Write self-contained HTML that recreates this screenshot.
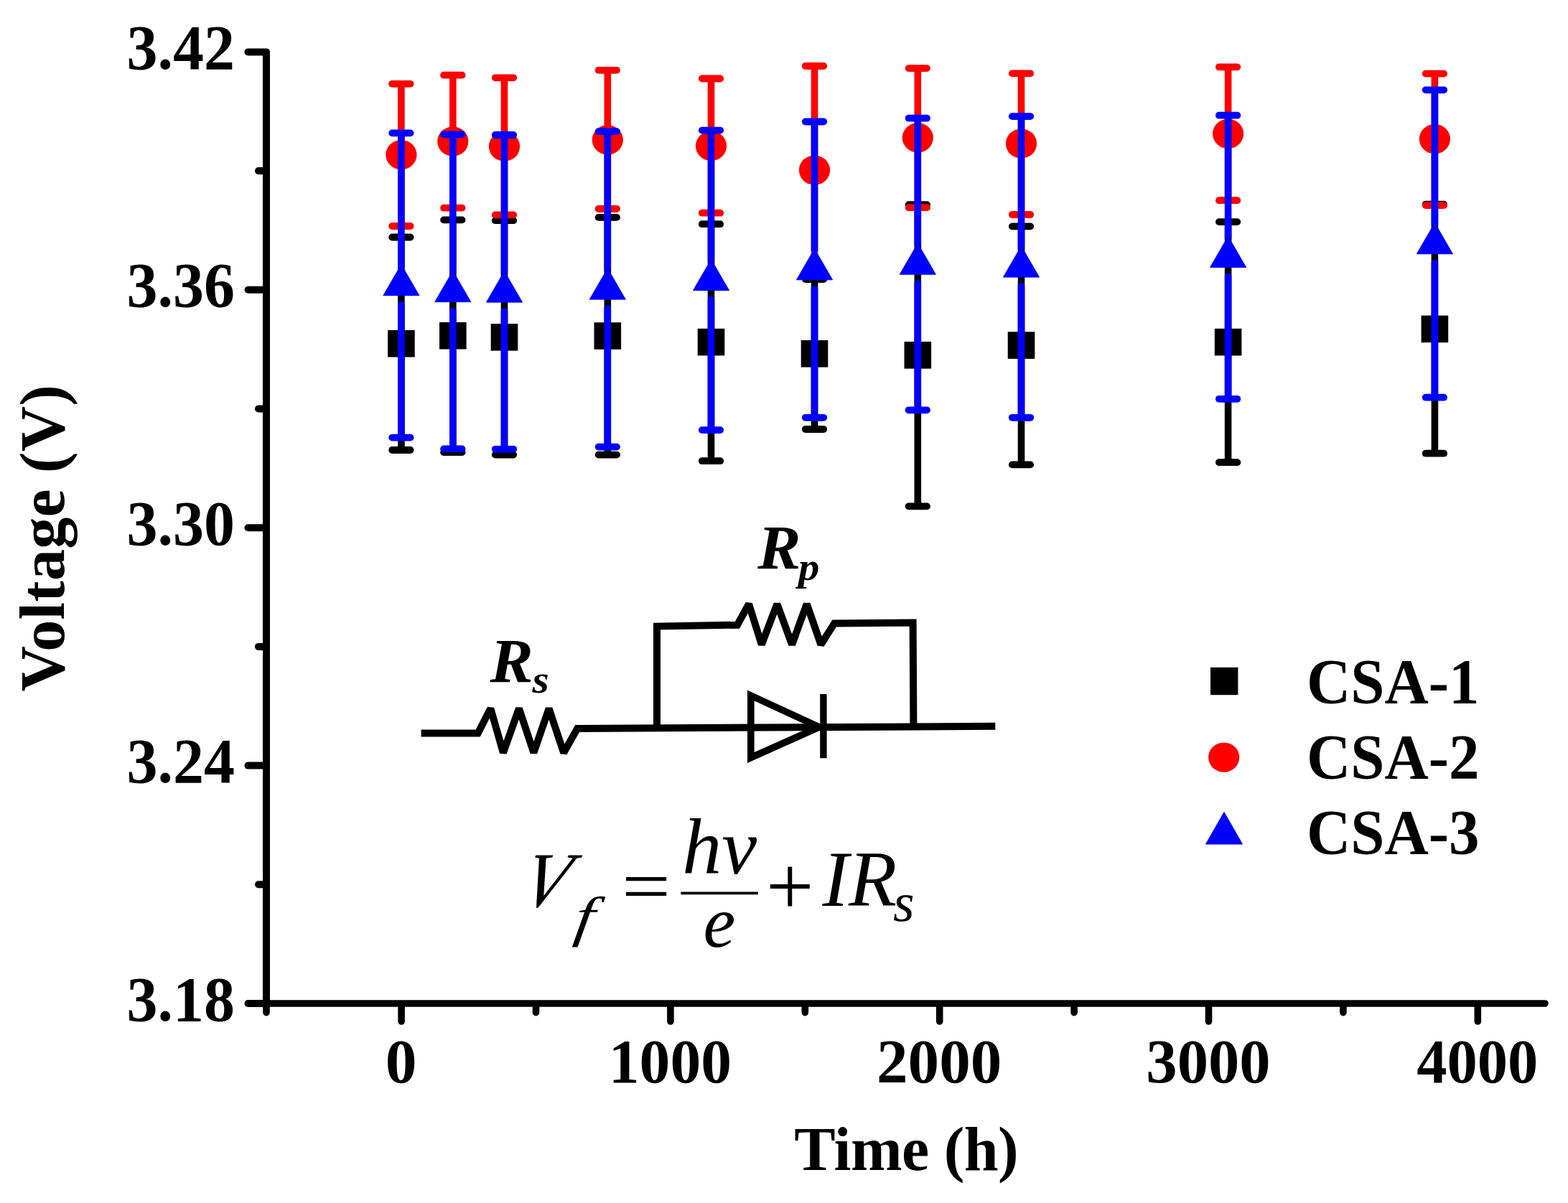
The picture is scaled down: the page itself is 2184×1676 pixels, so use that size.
<!DOCTYPE html>
<html><head><meta charset="utf-8"><title>Voltage vs Time</title>
<style>html,body{margin:0;padding:0;background:#fff;}svg{display:block;}</style>
</head><body>
<svg width="2184" height="1676" viewBox="0 0 2184 1676">
<rect width="2184" height="1676" fill="#fff"/>
<path d="M345.5 72.4 H371.0 V1398.0" fill="none" stroke="#000" stroke-width="10" stroke-linejoin="round" stroke-linecap="round"/>
<line x1="345.5" y1="403.8" x2="371.0" y2="403.8" stroke="#000" stroke-width="10" stroke-linecap="round"/>
<line x1="345.5" y1="735.2" x2="371.0" y2="735.2" stroke="#000" stroke-width="10" stroke-linecap="round"/>
<line x1="345.5" y1="1066.6" x2="371.0" y2="1066.6" stroke="#000" stroke-width="10" stroke-linecap="round"/>
<line x1="345.5" y1="1398.0" x2="371.0" y2="1398.0" stroke="#000" stroke-width="10" stroke-linecap="round"/>
<line x1="360" y1="238.1" x2="371.0" y2="238.1" stroke="#000" stroke-width="10" stroke-linecap="round"/>
<line x1="360" y1="569.5" x2="371.0" y2="569.5" stroke="#000" stroke-width="10" stroke-linecap="round"/>
<line x1="360" y1="900.9" x2="371.0" y2="900.9" stroke="#000" stroke-width="10" stroke-linecap="round"/>
<line x1="360" y1="1232.3" x2="371.0" y2="1232.3" stroke="#000" stroke-width="10" stroke-linecap="round"/>
<line x1="367.0" y1="1398.0" x2="2152" y2="1398.0" stroke="#000" stroke-width="9.6" stroke-linecap="round"/>
<line x1="559.1" y1="1402.0" x2="559.1" y2="1423" stroke="#000" stroke-width="9.6" stroke-linecap="round"/>
<line x1="933.9" y1="1402.0" x2="933.9" y2="1423" stroke="#000" stroke-width="9.6" stroke-linecap="round"/>
<line x1="1308.7" y1="1402.0" x2="1308.7" y2="1423" stroke="#000" stroke-width="9.6" stroke-linecap="round"/>
<line x1="1683.5" y1="1402.0" x2="1683.5" y2="1423" stroke="#000" stroke-width="9.6" stroke-linecap="round"/>
<line x1="2058.3" y1="1402.0" x2="2058.3" y2="1423" stroke="#000" stroke-width="9.6" stroke-linecap="round"/>
<line x1="371.0" y1="1402.0" x2="371.0" y2="1410.6" stroke="#000" stroke-width="9.6" stroke-linecap="round"/>
<line x1="746.5" y1="1402.0" x2="746.5" y2="1410.6" stroke="#000" stroke-width="9.6" stroke-linecap="round"/>
<line x1="1121.3" y1="1402.0" x2="1121.3" y2="1410.6" stroke="#000" stroke-width="9.6" stroke-linecap="round"/>
<line x1="1496.1" y1="1402.0" x2="1496.1" y2="1410.6" stroke="#000" stroke-width="9.6" stroke-linecap="round"/>
<line x1="1870.9" y1="1402.0" x2="1870.9" y2="1410.6" stroke="#000" stroke-width="9.6" stroke-linecap="round"/>
<line x1="558.9" y1="330.5" x2="558.9" y2="627.0" stroke="#000" stroke-width="9.6" stroke-linecap="butt"/>
<line x1="546.2" y1="330.5" x2="571.6" y2="330.5" stroke="#000" stroke-width="9.8" stroke-linecap="round"/>
<line x1="546.2" y1="627.0" x2="571.6" y2="627.0" stroke="#000" stroke-width="9.8" stroke-linecap="round"/>
<line x1="630.8" y1="306.4" x2="630.8" y2="630.2" stroke="#000" stroke-width="9.6" stroke-linecap="butt"/>
<line x1="618.1" y1="306.4" x2="643.5" y2="306.4" stroke="#000" stroke-width="9.8" stroke-linecap="round"/>
<line x1="618.1" y1="630.2" x2="643.5" y2="630.2" stroke="#000" stroke-width="9.8" stroke-linecap="round"/>
<line x1="702.5" y1="307.2" x2="702.5" y2="633.6" stroke="#000" stroke-width="9.6" stroke-linecap="butt"/>
<line x1="689.8" y1="307.2" x2="715.2" y2="307.2" stroke="#000" stroke-width="9.8" stroke-linecap="round"/>
<line x1="689.8" y1="633.6" x2="715.2" y2="633.6" stroke="#000" stroke-width="9.8" stroke-linecap="round"/>
<line x1="846.3" y1="302.9" x2="846.3" y2="633.6" stroke="#000" stroke-width="9.6" stroke-linecap="butt"/>
<line x1="833.6" y1="302.9" x2="859.0" y2="302.9" stroke="#000" stroke-width="9.8" stroke-linecap="round"/>
<line x1="833.6" y1="633.6" x2="859.0" y2="633.6" stroke="#000" stroke-width="9.8" stroke-linecap="round"/>
<line x1="990.5" y1="312.2" x2="990.5" y2="642.2" stroke="#000" stroke-width="9.6" stroke-linecap="butt"/>
<line x1="977.8" y1="312.2" x2="1003.2" y2="312.2" stroke="#000" stroke-width="9.8" stroke-linecap="round"/>
<line x1="977.8" y1="642.2" x2="1003.2" y2="642.2" stroke="#000" stroke-width="9.8" stroke-linecap="round"/>
<line x1="1134.5" y1="389.0" x2="1134.5" y2="598.0" stroke="#000" stroke-width="9.6" stroke-linecap="butt"/>
<line x1="1121.8" y1="389.0" x2="1147.2" y2="389.0" stroke="#000" stroke-width="9.8" stroke-linecap="round"/>
<line x1="1121.8" y1="598.0" x2="1147.2" y2="598.0" stroke="#000" stroke-width="9.8" stroke-linecap="round"/>
<line x1="1278.3" y1="285.2" x2="1278.3" y2="705.4" stroke="#000" stroke-width="9.6" stroke-linecap="butt"/>
<line x1="1265.6" y1="285.2" x2="1291.0" y2="285.2" stroke="#000" stroke-width="9.8" stroke-linecap="round"/>
<line x1="1265.6" y1="705.4" x2="1291.0" y2="705.4" stroke="#000" stroke-width="9.8" stroke-linecap="round"/>
<line x1="1422.5" y1="315.4" x2="1422.5" y2="647.4" stroke="#000" stroke-width="9.6" stroke-linecap="butt"/>
<line x1="1409.8" y1="315.4" x2="1435.2" y2="315.4" stroke="#000" stroke-width="9.8" stroke-linecap="round"/>
<line x1="1409.8" y1="647.4" x2="1435.2" y2="647.4" stroke="#000" stroke-width="9.8" stroke-linecap="round"/>
<line x1="1710.6" y1="309.1" x2="1710.6" y2="644.2" stroke="#000" stroke-width="9.6" stroke-linecap="butt"/>
<line x1="1697.9" y1="309.1" x2="1723.3" y2="309.1" stroke="#000" stroke-width="9.8" stroke-linecap="round"/>
<line x1="1697.9" y1="644.2" x2="1723.3" y2="644.2" stroke="#000" stroke-width="9.8" stroke-linecap="round"/>
<line x1="1998.4" y1="284.7" x2="1998.4" y2="631.7" stroke="#000" stroke-width="9.6" stroke-linecap="butt"/>
<line x1="1985.7" y1="284.7" x2="2011.1" y2="284.7" stroke="#000" stroke-width="9.8" stroke-linecap="round"/>
<line x1="1985.7" y1="631.7" x2="2011.1" y2="631.7" stroke="#000" stroke-width="9.8" stroke-linecap="round"/>
<rect x="540.1" y="459.9" width="37.6" height="37.6" fill="#000"/>
<rect x="612.0" y="448.9" width="37.6" height="37.6" fill="#000"/>
<rect x="683.7" y="451.0" width="37.6" height="37.6" fill="#000"/>
<rect x="827.5" y="449.2" width="37.6" height="37.6" fill="#000"/>
<rect x="971.7" y="457.8" width="37.6" height="37.6" fill="#000"/>
<rect x="1115.7" y="474.0" width="37.6" height="37.6" fill="#000"/>
<rect x="1259.5" y="476.0" width="37.6" height="37.6" fill="#000"/>
<rect x="1403.7" y="462.3" width="37.6" height="37.6" fill="#000"/>
<rect x="1691.8" y="457.8" width="37.6" height="37.6" fill="#000"/>
<rect x="1979.6" y="439.6" width="37.6" height="37.6" fill="#000"/>
<line x1="558.9" y1="116.8" x2="558.9" y2="315.0" stroke="#ff0000" stroke-width="9.6" stroke-linecap="butt"/>
<line x1="546.2" y1="116.8" x2="571.6" y2="116.8" stroke="#ff0000" stroke-width="9.8" stroke-linecap="round"/>
<line x1="546.2" y1="315.0" x2="571.6" y2="315.0" stroke="#ff0000" stroke-width="9.8" stroke-linecap="round"/>
<line x1="630.8" y1="104.7" x2="630.8" y2="289.7" stroke="#ff0000" stroke-width="9.6" stroke-linecap="butt"/>
<line x1="618.1" y1="104.7" x2="643.5" y2="104.7" stroke="#ff0000" stroke-width="9.8" stroke-linecap="round"/>
<line x1="618.1" y1="289.7" x2="643.5" y2="289.7" stroke="#ff0000" stroke-width="9.8" stroke-linecap="round"/>
<line x1="702.5" y1="108.3" x2="702.5" y2="299.4" stroke="#ff0000" stroke-width="9.6" stroke-linecap="butt"/>
<line x1="689.8" y1="108.3" x2="715.2" y2="108.3" stroke="#ff0000" stroke-width="9.8" stroke-linecap="round"/>
<line x1="689.8" y1="299.4" x2="715.2" y2="299.4" stroke="#ff0000" stroke-width="9.8" stroke-linecap="round"/>
<line x1="846.3" y1="97.8" x2="846.3" y2="291.0" stroke="#ff0000" stroke-width="9.6" stroke-linecap="butt"/>
<line x1="833.6" y1="97.8" x2="859.0" y2="97.8" stroke="#ff0000" stroke-width="9.8" stroke-linecap="round"/>
<line x1="833.6" y1="291.0" x2="859.0" y2="291.0" stroke="#ff0000" stroke-width="9.8" stroke-linecap="round"/>
<line x1="990.5" y1="109.5" x2="990.5" y2="296.7" stroke="#ff0000" stroke-width="9.6" stroke-linecap="butt"/>
<line x1="977.8" y1="109.5" x2="1003.2" y2="109.5" stroke="#ff0000" stroke-width="9.8" stroke-linecap="round"/>
<line x1="977.8" y1="296.7" x2="1003.2" y2="296.7" stroke="#ff0000" stroke-width="9.8" stroke-linecap="round"/>
<line x1="1134.5" y1="92.0" x2="1134.5" y2="382.0" stroke="#ff0000" stroke-width="9.6" stroke-linecap="butt"/>
<line x1="1121.8" y1="92.0" x2="1147.2" y2="92.0" stroke="#ff0000" stroke-width="9.8" stroke-linecap="round"/>
<line x1="1121.8" y1="382.0" x2="1147.2" y2="382.0" stroke="#ff0000" stroke-width="9.8" stroke-linecap="round"/>
<line x1="1278.3" y1="95.1" x2="1278.3" y2="289.2" stroke="#ff0000" stroke-width="9.6" stroke-linecap="butt"/>
<line x1="1265.6" y1="95.1" x2="1291.0" y2="95.1" stroke="#ff0000" stroke-width="9.8" stroke-linecap="round"/>
<line x1="1265.6" y1="289.2" x2="1291.0" y2="289.2" stroke="#ff0000" stroke-width="9.8" stroke-linecap="round"/>
<line x1="1422.5" y1="102.4" x2="1422.5" y2="299.0" stroke="#ff0000" stroke-width="9.6" stroke-linecap="butt"/>
<line x1="1409.8" y1="102.4" x2="1435.2" y2="102.4" stroke="#ff0000" stroke-width="9.8" stroke-linecap="round"/>
<line x1="1409.8" y1="299.0" x2="1435.2" y2="299.0" stroke="#ff0000" stroke-width="9.8" stroke-linecap="round"/>
<line x1="1710.6" y1="93.3" x2="1710.6" y2="279.2" stroke="#ff0000" stroke-width="9.6" stroke-linecap="butt"/>
<line x1="1697.9" y1="93.3" x2="1723.3" y2="93.3" stroke="#ff0000" stroke-width="9.8" stroke-linecap="round"/>
<line x1="1697.9" y1="279.2" x2="1723.3" y2="279.2" stroke="#ff0000" stroke-width="9.8" stroke-linecap="round"/>
<line x1="1998.4" y1="102.6" x2="1998.4" y2="286.1" stroke="#ff0000" stroke-width="9.6" stroke-linecap="butt"/>
<line x1="1985.7" y1="102.6" x2="2011.1" y2="102.6" stroke="#ff0000" stroke-width="9.8" stroke-linecap="round"/>
<line x1="1985.7" y1="286.1" x2="2011.1" y2="286.1" stroke="#ff0000" stroke-width="9.8" stroke-linecap="round"/>
<ellipse cx="558.9" cy="215.6" rx="21.6" ry="20.7" fill="#ff0000"/>
<ellipse cx="630.8" cy="197.0" rx="21.6" ry="20.7" fill="#ff0000"/>
<ellipse cx="702.5" cy="204.0" rx="21.6" ry="20.7" fill="#ff0000"/>
<ellipse cx="846.3" cy="194.8" rx="21.6" ry="20.7" fill="#ff0000"/>
<ellipse cx="990.5" cy="203.3" rx="21.6" ry="20.7" fill="#ff0000"/>
<ellipse cx="1134.5" cy="237.0" rx="21.6" ry="20.7" fill="#ff0000"/>
<ellipse cx="1278.3" cy="191.8" rx="21.6" ry="20.7" fill="#ff0000"/>
<ellipse cx="1422.5" cy="200.0" rx="21.6" ry="20.7" fill="#ff0000"/>
<ellipse cx="1710.6" cy="186.3" rx="21.6" ry="20.7" fill="#ff0000"/>
<ellipse cx="1998.4" cy="193.6" rx="21.6" ry="20.7" fill="#ff0000"/>
<line x1="558.9" y1="185.4" x2="558.9" y2="372.0" stroke="#0000ff" stroke-width="9.6" stroke-linecap="butt"/>
<line x1="558.9" y1="424.5" x2="558.9" y2="609.6" stroke="#0000ff" stroke-width="9.6" stroke-linecap="round"/>
<line x1="546.2" y1="185.4" x2="571.6" y2="185.4" stroke="#0000ff" stroke-width="9.8" stroke-linecap="round"/>
<line x1="546.2" y1="609.6" x2="571.6" y2="609.6" stroke="#0000ff" stroke-width="9.8" stroke-linecap="round"/>
<line x1="630.8" y1="187.4" x2="630.8" y2="380.9" stroke="#0000ff" stroke-width="9.6" stroke-linecap="butt"/>
<line x1="630.8" y1="433.4" x2="630.8" y2="625.4" stroke="#0000ff" stroke-width="9.6" stroke-linecap="round"/>
<line x1="618.1" y1="187.4" x2="643.5" y2="187.4" stroke="#0000ff" stroke-width="9.8" stroke-linecap="round"/>
<line x1="618.1" y1="625.4" x2="643.5" y2="625.4" stroke="#0000ff" stroke-width="9.8" stroke-linecap="round"/>
<line x1="702.5" y1="188.0" x2="702.5" y2="381.4" stroke="#0000ff" stroke-width="9.6" stroke-linecap="butt"/>
<line x1="702.5" y1="433.9" x2="702.5" y2="625.8" stroke="#0000ff" stroke-width="9.6" stroke-linecap="round"/>
<line x1="689.8" y1="188.0" x2="715.2" y2="188.0" stroke="#0000ff" stroke-width="9.8" stroke-linecap="round"/>
<line x1="689.8" y1="625.8" x2="715.2" y2="625.8" stroke="#0000ff" stroke-width="9.8" stroke-linecap="round"/>
<line x1="846.3" y1="183.2" x2="846.3" y2="377.4" stroke="#0000ff" stroke-width="9.6" stroke-linecap="butt"/>
<line x1="846.3" y1="429.9" x2="846.3" y2="622.6" stroke="#0000ff" stroke-width="9.6" stroke-linecap="round"/>
<line x1="833.6" y1="183.2" x2="859.0" y2="183.2" stroke="#0000ff" stroke-width="9.8" stroke-linecap="round"/>
<line x1="833.6" y1="622.6" x2="859.0" y2="622.6" stroke="#0000ff" stroke-width="9.8" stroke-linecap="round"/>
<line x1="990.5" y1="181.6" x2="990.5" y2="364.9" stroke="#0000ff" stroke-width="9.6" stroke-linecap="butt"/>
<line x1="990.5" y1="417.4" x2="990.5" y2="599.1" stroke="#0000ff" stroke-width="9.6" stroke-linecap="round"/>
<line x1="977.8" y1="181.6" x2="1003.2" y2="181.6" stroke="#0000ff" stroke-width="9.8" stroke-linecap="round"/>
<line x1="977.8" y1="599.1" x2="1003.2" y2="599.1" stroke="#0000ff" stroke-width="9.8" stroke-linecap="round"/>
<line x1="1134.5" y1="169.5" x2="1134.5" y2="350.1" stroke="#0000ff" stroke-width="9.6" stroke-linecap="butt"/>
<line x1="1134.5" y1="402.6" x2="1134.5" y2="581.8" stroke="#0000ff" stroke-width="9.6" stroke-linecap="round"/>
<line x1="1121.8" y1="169.5" x2="1147.2" y2="169.5" stroke="#0000ff" stroke-width="9.8" stroke-linecap="round"/>
<line x1="1121.8" y1="581.8" x2="1147.2" y2="581.8" stroke="#0000ff" stroke-width="9.8" stroke-linecap="round"/>
<line x1="1278.3" y1="164.7" x2="1278.3" y2="342.5" stroke="#0000ff" stroke-width="9.6" stroke-linecap="butt"/>
<line x1="1278.3" y1="395.0" x2="1278.3" y2="571.3" stroke="#0000ff" stroke-width="9.6" stroke-linecap="round"/>
<line x1="1265.6" y1="164.7" x2="1291.0" y2="164.7" stroke="#0000ff" stroke-width="9.8" stroke-linecap="round"/>
<line x1="1265.6" y1="571.3" x2="1291.0" y2="571.3" stroke="#0000ff" stroke-width="9.8" stroke-linecap="round"/>
<line x1="1422.5" y1="162.1" x2="1422.5" y2="346.4" stroke="#0000ff" stroke-width="9.6" stroke-linecap="butt"/>
<line x1="1422.5" y1="398.9" x2="1422.5" y2="581.8" stroke="#0000ff" stroke-width="9.6" stroke-linecap="round"/>
<line x1="1409.8" y1="162.1" x2="1435.2" y2="162.1" stroke="#0000ff" stroke-width="9.8" stroke-linecap="round"/>
<line x1="1409.8" y1="581.8" x2="1435.2" y2="581.8" stroke="#0000ff" stroke-width="9.8" stroke-linecap="round"/>
<line x1="1710.6" y1="160.7" x2="1710.6" y2="332.8" stroke="#0000ff" stroke-width="9.6" stroke-linecap="butt"/>
<line x1="1710.6" y1="385.2" x2="1710.6" y2="555.8" stroke="#0000ff" stroke-width="9.6" stroke-linecap="round"/>
<line x1="1697.9" y1="160.7" x2="1723.3" y2="160.7" stroke="#0000ff" stroke-width="9.8" stroke-linecap="round"/>
<line x1="1697.9" y1="555.8" x2="1723.3" y2="555.8" stroke="#0000ff" stroke-width="9.8" stroke-linecap="round"/>
<line x1="1998.4" y1="125.3" x2="1998.4" y2="314.0" stroke="#0000ff" stroke-width="9.6" stroke-linecap="butt"/>
<line x1="1998.4" y1="366.5" x2="1998.4" y2="553.7" stroke="#0000ff" stroke-width="9.6" stroke-linecap="round"/>
<line x1="1985.7" y1="125.3" x2="2011.1" y2="125.3" stroke="#0000ff" stroke-width="9.8" stroke-linecap="round"/>
<line x1="1985.7" y1="553.7" x2="2011.1" y2="553.7" stroke="#0000ff" stroke-width="9.8" stroke-linecap="round"/>
<polygon points="533.9,411.7 583.9,411.7 558.9,368.5" fill="#0000ff" stroke="#0000ff" stroke-width="1" stroke-linejoin="round"/>
<polygon points="605.8,420.6 655.8,420.6 630.8,377.4" fill="#0000ff" stroke="#0000ff" stroke-width="1" stroke-linejoin="round"/>
<polygon points="677.5,421.1 727.5,421.1 702.5,377.9" fill="#0000ff" stroke="#0000ff" stroke-width="1" stroke-linejoin="round"/>
<polygon points="821.3,417.1 871.3,417.1 846.3,373.9" fill="#0000ff" stroke="#0000ff" stroke-width="1" stroke-linejoin="round"/>
<polygon points="965.5,404.6 1015.5,404.6 990.5,361.4" fill="#0000ff" stroke="#0000ff" stroke-width="1" stroke-linejoin="round"/>
<polygon points="1109.5,389.8 1159.5,389.8 1134.5,346.6" fill="#0000ff" stroke="#0000ff" stroke-width="1" stroke-linejoin="round"/>
<polygon points="1253.3,382.2 1303.3,382.2 1278.3,339.0" fill="#0000ff" stroke="#0000ff" stroke-width="1" stroke-linejoin="round"/>
<polygon points="1397.5,386.1 1447.5,386.1 1422.5,342.9" fill="#0000ff" stroke="#0000ff" stroke-width="1" stroke-linejoin="round"/>
<polygon points="1685.6,372.4 1735.6,372.4 1710.6,329.2" fill="#0000ff" stroke="#0000ff" stroke-width="1" stroke-linejoin="round"/>
<polygon points="1973.4,353.7 2023.4,353.7 1998.4,310.5" fill="#0000ff" stroke="#0000ff" stroke-width="1" stroke-linejoin="round"/>
<text x="327" y="96.0" font-family="'Liberation Serif', serif" font-weight="bold" font-size="88.5" text-anchor="end" textLength="150.5" lengthAdjust="spacingAndGlyphs">3.42</text>
<text x="327" y="427.4" font-family="'Liberation Serif', serif" font-weight="bold" font-size="88.5" text-anchor="end" textLength="150.5" lengthAdjust="spacingAndGlyphs">3.36</text>
<text x="327" y="758.8" font-family="'Liberation Serif', serif" font-weight="bold" font-size="88.5" text-anchor="end" textLength="150.5" lengthAdjust="spacingAndGlyphs">3.30</text>
<text x="327" y="1090.2" font-family="'Liberation Serif', serif" font-weight="bold" font-size="88.5" text-anchor="end" textLength="150.5" lengthAdjust="spacingAndGlyphs">3.24</text>
<text x="327" y="1421.6" font-family="'Liberation Serif', serif" font-weight="bold" font-size="88.5" text-anchor="end" textLength="150.5" lengthAdjust="spacingAndGlyphs">3.18</text>
<text x="558.6" y="1507.5" font-family="'Liberation Serif', serif" font-weight="bold" font-size="87.5" text-anchor="middle">0</text>
<text x="933.4" y="1507.5" font-family="'Liberation Serif', serif" font-weight="bold" font-size="87.5" text-anchor="middle" textLength="171.3" lengthAdjust="spacingAndGlyphs">1000</text>
<text x="1308.2" y="1507.5" font-family="'Liberation Serif', serif" font-weight="bold" font-size="87.5" text-anchor="middle" textLength="174.3" lengthAdjust="spacingAndGlyphs">2000</text>
<text x="1683.0" y="1507.5" font-family="'Liberation Serif', serif" font-weight="bold" font-size="87.5" text-anchor="middle" textLength="173.3" lengthAdjust="spacingAndGlyphs">3000</text>
<text x="2057.8" y="1507.5" font-family="'Liberation Serif', serif" font-weight="bold" font-size="87.5" text-anchor="middle" textLength="169.0" lengthAdjust="spacingAndGlyphs">4000</text>
<text x="1262.5" y="1629.8" font-family="'Liberation Serif', serif" font-weight="bold" font-size="86" text-anchor="middle" textLength="312.5" lengthAdjust="spacing">Time (h)</text>
<text transform="translate(88.5,749.8) rotate(-90)" x="0" y="0" font-family="'Liberation Serif', serif" font-weight="bold" font-size="88" text-anchor="middle" textLength="427.3" lengthAdjust="spacing">Voltage (V)</text>
<rect x="1686" y="929.8" width="38.4" height="38.4" fill="#000"/>
<ellipse cx="1704.7" cy="1055.1" rx="21.6" ry="20.6" fill="#ff0000"/>
<polygon points="1679.5,1176 1730.5,1176 1705,1131.5" fill="#0000ff" stroke="#0000ff" stroke-width="1" stroke-linejoin="round"/>
<text x="1820" y="978.5" font-family="'Liberation Serif', serif" font-weight="bold" font-size="88.5" textLength="240.5" lengthAdjust="spacingAndGlyphs">CSA-1</text>
<text x="1820" y="1083.9" font-family="'Liberation Serif', serif" font-weight="bold" font-size="88.5" textLength="240.5" lengthAdjust="spacingAndGlyphs">CSA-2</text>
<text x="1820" y="1189.1" font-family="'Liberation Serif', serif" font-weight="bold" font-size="88.5" textLength="240.5" lengthAdjust="spacingAndGlyphs">CSA-3</text>
<polyline points="586.6,1021.5 665.7,1021.5 683.3,987 700.9,1048.7 722.9,987 743.4,1048.7 764.6,987 785.1,1048.7 804.2,1014.9 1386.3,1011.8" fill="none" stroke="#000" stroke-width="10" stroke-linejoin="miter" stroke-miterlimit="2"/>
<polyline points="915,1013.6 915,872.6 1027,870.7 1043,841.5 1060.8,898 1082.4,841.5 1103.1,898 1123.7,841.5 1143.4,898 1162.2,868.4 1271.6,867.5 1272.4,1012.5" fill="none" stroke="#000" stroke-width="10" stroke-linejoin="miter" stroke-miterlimit="2"/>
<polygon points="1045.8,969 1141,1013 1045.8,1055.5" fill="none" stroke="#000" stroke-width="9.6" stroke-linejoin="miter"/>
<line x1="1146.9" y1="966.9" x2="1146.9" y2="1056.3" stroke="#000" stroke-width="9.4"/>
<text transform="translate(682.5,949.5) scale(1.05,1)" x="0" y="0" font-family="'Liberation Serif', serif" font-weight="bold" font-style="italic" font-size="86">R</text>
<text transform="translate(741.5,965) scale(1.09,1)" x="0" y="0" font-family="'Liberation Serif', serif" font-weight="bold" font-style="italic" font-size="55">s</text>
<text transform="translate(1055.2,791.9) scale(1.05,1)" x="0" y="0" font-family="'Liberation Serif', serif" font-weight="bold" font-style="italic" font-size="86">R</text>
<text transform="translate(1112,807.5) scale(1.07,1)" x="0" y="0" font-family="'Liberation Serif', serif" font-weight="bold" font-style="italic" font-size="55">p</text>
<text transform="translate(721.5,1262.5) skewX(-15) scale(0.92,1)" x="0" y="0" font-family="'Liberation Serif', serif" font-style="italic" font-size="109">V</text>
<text transform="translate(798,1303) skewX(-8) scale(1.25,1)" x="0" y="0" font-family="'Liberation Serif', serif" font-style="italic" font-size="77">f</text>
<text transform="translate(866,1270) scale(1.16,1)" x="0" y="0" font-family="'Liberation Serif', serif" font-size="104">=</text>
<text x="950.2" y="1217.1" font-family="'Liberation Serif', serif" font-style="italic" font-size="110">hv</text>
<line x1="948.4" y1="1244.4" x2="1055.9" y2="1244.4" stroke="#000" stroke-width="3.8"/>
<text x="979.5" y="1318.5" font-family="'Liberation Serif', serif" font-style="italic" font-size="101">e</text>
<text x="1067" y="1274.7" font-family="'Liberation Serif', serif" font-size="118">+</text>
<text x="1145.4" y="1262.2" font-family="'Liberation Serif', serif" font-style="italic" font-size="110">IR</text>
<text x="1244" y="1283" font-family="'Liberation Serif', serif" font-style="italic" font-size="76">s</text>
</svg>
</body></html>
